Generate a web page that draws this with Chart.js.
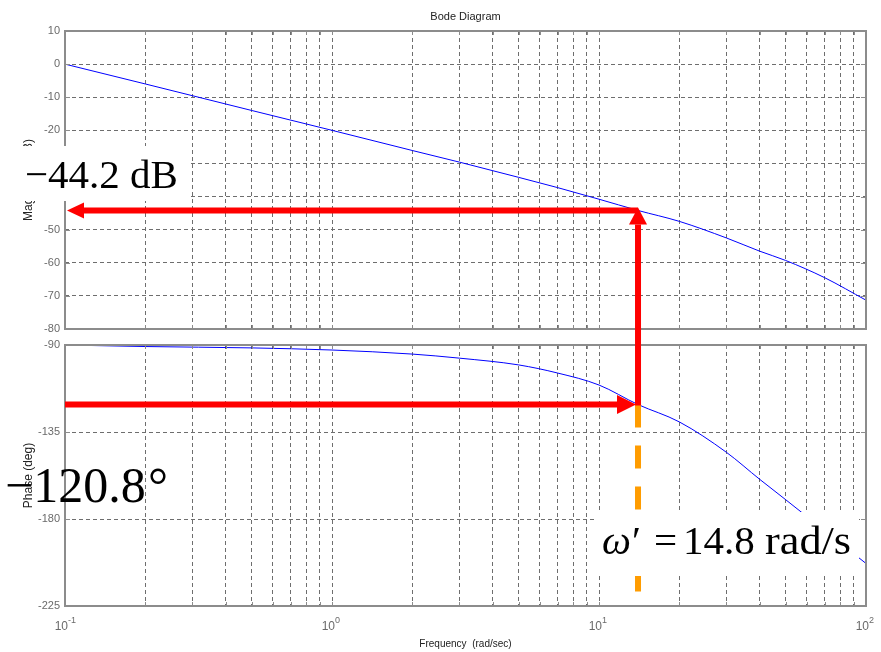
<!DOCTYPE html>
<html>
<head>
<meta charset="utf-8">
<script src="https://cdn.jsdelivr.net/npm/chart.js@4.4.0/dist/chart.umd.min.js"></script>
<style>
html,body{margin:0;padding:0;background:#fff;}
#wrap{position:relative;width:881px;height:652px;}
#wrap canvas{position:absolute;left:0;top:0;}
</style>
</head>
<body>
<div id="wrap">
<canvas id="mag" width="881" height="652"></canvas>
<canvas id="phase" width="881" height="652"></canvas>
</div>
<script>
// frequency samples (rad/s) and values
const freq     = [0.1, 0.2, 0.5, 1, 2, 3, 5, 7, 10, 14, 20, 30, 40, 50, 70, 100];
const magDb    = [0, -6.0, -14.0, -20.0, -26.1, -29.6, -34.2, -37.3, -40.8, -44.2, -47.5, -52.5, -56.5, -59.3, -64.5, -71.3];
const phaseDeg = [-90, -90.8, -91.5, -92.6, -94.7, -96.8, -100.3, -104.5, -110.7, -120.8, -129.8, -145.5, -159.5, -170, -186, -203];

// decade tick labels: 10^exp
const xDecades = [0.1, 1, 10, 100];
const xLabelBase = '10';
const xLabelExp  = ['-1', '0', '1', '2'];
const magTicks   = [10, 0, -10, -20, -30, -40, -50, -60, -70, -80];
const phaseTicks = [-90, -135, -180, -225];

// marked crossover point
const markFreq  = 14.0;
const markMag   = -44.2;
const markPhase = -120.8;
const magText   = '\u221244.2 dB';
const phaseText = ['\u2212120.8', '\u00B0'];
const freqText  = ['\u03C9', '\u2032', '=', '14.8', 'rad/s'];

const gridFreqs = [];
[0.1, 1, 10].forEach(d => { for (let k = 1; k < 10; k++) gridFreqs.push(+(k * d).toPrecision(3)); });
gridFreqs.push(100);

const GRID = '#6e6e6e', AXIS = '#8c8c8c', TICKCOL = '#6a6a6a';
const SANS = '"Liberation Sans", Arial, sans-serif';
const SERIF = '"Liberation Serif", "Times New Roman", serif';
const tickFont = {family: SANS, size: 11};
const titleFont = {family: SANS, size: 12};

function xScale(showTitle) {
  return {
    type: 'logarithmic', min: 0.1, max: 100,
    afterBuildTicks: s => { s.ticks = gridFreqs.map(v => ({value: v})); },
    afterFit: s => { s.height = showTitle ? 46 : 0; },
    grid: {color: GRID, lineWidth: 1, drawTicks: false},
    border: {display: false, dash: [4, 3]},
    ticks: {display: false, autoSkip: false},
    title: showTitle ? {display: true, text: 'Frequency  (rad/sec)', color: '#222', font: {family: SANS, size: 10}, padding: {top: 0, bottom: 2}} : {display: false}
  };
}

function yScale(ticks, title) {
  return {
    min: Math.min(...ticks), max: Math.max(...ticks),
    afterBuildTicks: s => { s.ticks = ticks.map(v => ({value: v})); },
    afterFit: s => { s.width = 65; },
    grid: {color: GRID, lineWidth: 1, drawTicks: false},
    border: {display: false, dash: [4, 3]},
    ticks: {padding: 5, color: TICKCOL, font: tickFont},
    title: {display: true, text: title, color: '#222', font: titleFont, padding: {top: 21, bottom: 0}}
  };
}

const boxPlugin = {
  id: 'box',
  afterDraw(chart) {
    const {ctx, chartArea: a, scales} = chart;
    ctx.save();
    ctx.strokeStyle = AXIS;
    ctx.lineWidth = 1;
    ctx.beginPath();
    scales.x.ticks.forEach(t => {
      const px = Math.round(scales.x.getPixelForValue(t.value)) + 0.5;
      ctx.moveTo(px, a.top); ctx.lineTo(px, a.top + 4);
      ctx.moveTo(px, a.bottom); ctx.lineTo(px, a.bottom - 4);
    });
    scales.y.ticks.forEach(t => {
      const py = Math.round(scales.y.getPixelForValue(t.value)) + 0.5;
      ctx.moveTo(a.left, py); ctx.lineTo(a.left + 5, py);
      ctx.moveTo(a.right, py); ctx.lineTo(a.right - 5, py);
    });
    ctx.stroke();
    ctx.lineWidth = 2;
    ctx.strokeRect(a.left, a.top, a.right - a.left, a.bottom - a.top);
    ctx.restore();
  }
};

const titlePlugin = {
  id: 'bodeTitle',
  afterDraw(chart) {
    const {ctx, chartArea: a} = chart;
    ctx.save();
    ctx.fillStyle = '#222';
    ctx.font = '11px ' + SANS;
    ctx.textAlign = 'center';
    ctx.textBaseline = 'middle';
    ctx.fillText('Bode Diagram', (a.left + a.right) / 2, 17);
    ctx.restore();
  }
};

// 10^n labels under the lower plot
const decadePlugin = {
  id: 'decades',
  afterDraw(chart) {
    const {ctx, chartArea: a, scales} = chart;
    ctx.save();
    ctx.fillStyle = TICKCOL;
    ctx.textBaseline = 'alphabetic';
    xDecades.forEach((d, i) => {
      const px = scales.x.getPixelForValue(d);
      ctx.font = '12px ' + SANS;
      ctx.textAlign = 'right';
      ctx.fillText(xLabelBase, px + 3, a.bottom + 24);
      ctx.font = '9px ' + SANS;
      ctx.textAlign = 'left';
      ctx.fillText(xLabelExp[i], px + 3, a.bottom + 17);
    });
    ctx.restore();
  }
};

function lineData(ys) {
  return {
    datasets: [{
      data: freq.map((f, i) => ({x: f, y: ys[i]})),
      borderColor: '#0000ff', borderWidth: 1, pointRadius: 0,
      cubicInterpolationMode: 'monotone', fill: false, clip: 0
    }]
  };
}

const magChart = new Chart(document.getElementById('mag'), {
  type: 'line',
  data: lineData(magDb),
  options: {
    responsive: false, animation: false, devicePixelRatio: 1,
    layout: {padding: {left: 0, right: 15, top: 31, bottom: 323}},
    plugins: {legend: {display: false}, tooltip: {enabled: false}},
    scales: {x: xScale(false), y: yScale(magTicks, 'Magnitude (dB)')}
  },
  plugins: [boxPlugin, titlePlugin]
});

function arrow(ctx, x1, y1, x2, y2, w, headLen, headW) {
  const ang = Math.atan2(y2 - y1, x2 - x1);
  const bx = x2 - headLen * Math.cos(ang), by = y2 - headLen * Math.sin(ang);
  ctx.lineWidth = w;
  ctx.beginPath(); ctx.moveTo(x1, y1); ctx.lineTo(bx, by); ctx.stroke();
  const nx = -Math.sin(ang) * headW / 2, ny = Math.cos(ang) * headW / 2;
  ctx.beginPath();
  ctx.moveTo(x2, y2); ctx.lineTo(bx + nx, by + ny); ctx.lineTo(bx - nx, by - ny);
  ctx.closePath(); ctx.fill();
}

const notePlugin = {
  id: 'notes',
  afterDraw(chart) {
    const ctx = chart.ctx;
    const pa = chart.chartArea;
    const ma = magChart.chartArea;
    const xm = chart.scales.x.getPixelForValue(markFreq);
    const yMag = magChart.scales.y.getPixelForValue(markMag);
    const yPh = chart.scales.y.getPixelForValue(markPhase);
    ctx.save();
    // orange dashed drop line
    ctx.strokeStyle = '#ff9c00';
    ctx.lineWidth = 6;
    ctx.setLineDash([23, 18]);
    ctx.beginPath(); ctx.moveTo(xm, yPh); ctx.lineTo(xm, pa.bottom - 13); ctx.stroke();
    ctx.setLineDash([]);
    // red arrows
    ctx.strokeStyle = '#ff0000'; ctx.fillStyle = '#ff0000';
    arrow(ctx, pa.left, yPh, xm - 2, yPh, 6, 19, 19);
    arrow(ctx, xm, yPh + 1, xm, yMag - 3, 6, 17, 18);
    arrow(ctx, xm, yMag, ma.left + 2, yMag, 6, 17, 16);
    // labels on white boxes
    ctx.fillStyle = '#fff';
    ctx.fillRect(12, 146, 176, 55);
    ctx.fillRect(597, 512, 262, 64);
    ctx.fillStyle = '#000';
    ctx.textBaseline = 'alphabetic';
    ctx.textAlign = 'left';
    ctx.font = '41px ' + SERIF;
    ctx.fillText(magText, 25, 188);
    ctx.font = '50px ' + SERIF;
    ctx.fillText(phaseText[0], 5, 502);
    ctx.fillText(phaseText[1], 148, 502);
    ctx.font = 'italic 41px ' + SERIF;
    ctx.fillText(freqText[0], 602, 554);
    ctx.font = '41px ' + SERIF;
    ctx.fillText(freqText[1], 632, 554);
    ctx.fillText(freqText[2], 654, 554);
    ctx.fillText(freqText[3], 683, 554);
    ctx.save();
    ctx.translate(765, 554);
    ctx.scale(1.08, 1);
    ctx.fillText(freqText[4], 0, 0);
    ctx.restore();
    ctx.restore();
  }
};

const phaseChart = new Chart(document.getElementById('phase'), {
  type: 'line',
  data: lineData(phaseDeg),
  options: {
    responsive: false, animation: false, devicePixelRatio: 1,
    layout: {padding: {left: 0, right: 15, top: 345, bottom: 0}},
    plugins: {legend: {display: false}, tooltip: {enabled: false}},
    scales: {x: xScale(true), y: yScale(phaseTicks, 'Phase (deg)')}
  },
  plugins: [boxPlugin, decadePlugin, notePlugin]
});
</script>
</body>
</html>
